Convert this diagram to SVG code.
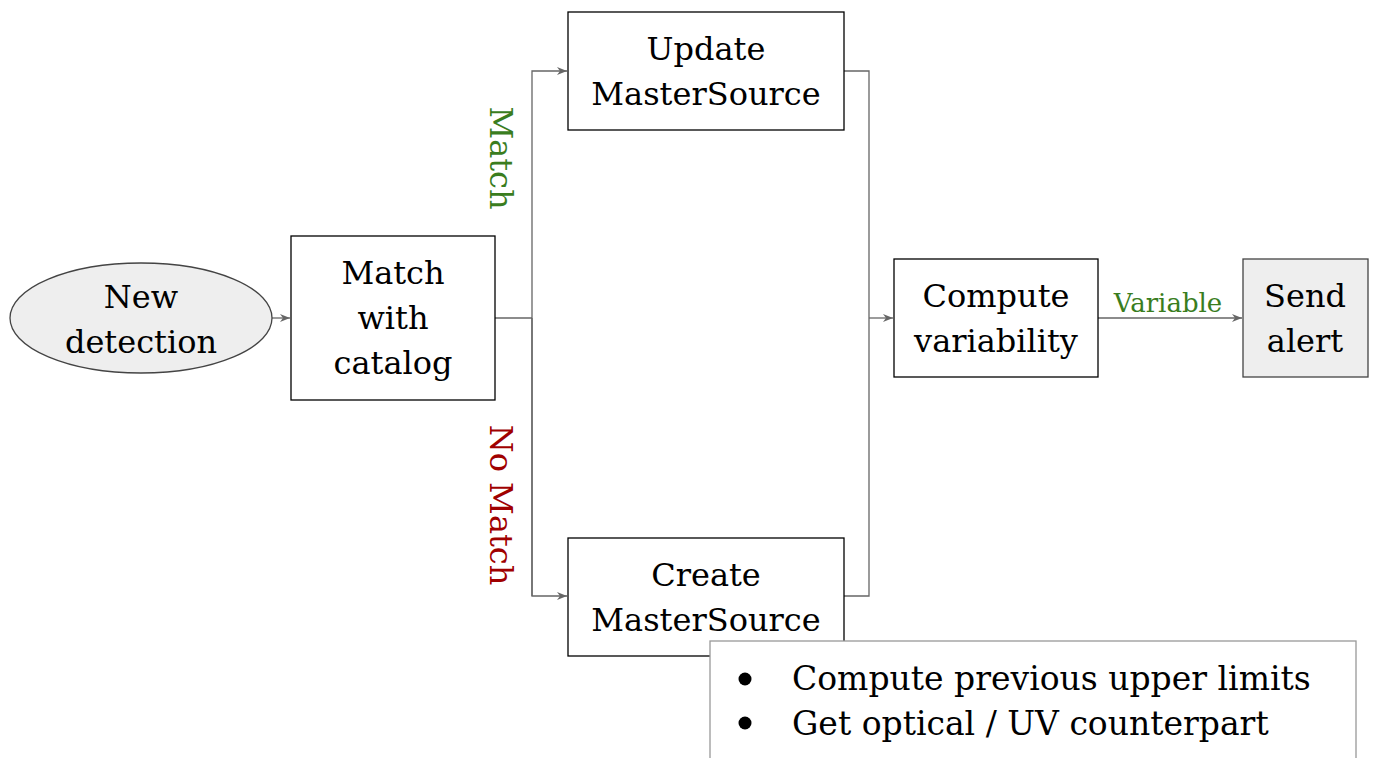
<svg xmlns="http://www.w3.org/2000/svg" width="1378" height="758" viewBox="0 0 1378 758">
<style>
.box{fill:#fff;stroke:#000;stroke-width:1.3}
.grey{fill:#eeeeee;stroke:#444;stroke-width:1.3}
.f{font-family:"DejaVu Serif","Liberation Serif",serif}
.t{font-family:"DejaVu Serif","Liberation Serif",serif;font-size:32px;fill:#000;text-anchor:middle}
.c{fill:none;stroke:#666;stroke-width:1.3}
</style>
<defs>
<marker id="a" viewBox="0 0 10 10" refX="10" refY="5" markerWidth="10" markerHeight="10" markerUnits="userSpaceOnUse" orient="auto">
<path d="M0,1 L10,5 L0,9 L3,5 Z" fill="#666"/>
</marker>
</defs>
<rect width="1378" height="758" fill="#fff"/>
<g id="connectors">
<line class="c" x1="272" y1="318" x2="290" y2="318" marker-end="url(#a)"/>
<polyline class="c" points="495,318 532,318"/>
<polyline class="c" points="532,596 532,71 567,71" marker-end="url(#a)"/>
<polyline class="c" points="532,318 532,596 567,596" marker-end="url(#a)"/>
<polyline class="c" points="844,71 869,71 869,596 844,596"/>
<line class="c" x1="869" y1="318" x2="893" y2="318" marker-end="url(#a)"/>
<line class="c" x1="1098" y1="318" x2="1242" y2="318" marker-end="url(#a)"/>
<text class="f" x="1168" y="312" font-size="26" fill="#3a7d1e" text-anchor="middle">Variable</text>
<text class="f" transform="translate(490,158) rotate(90)" font-size="32" fill="#3a7d1e" text-anchor="middle">Match</text>
<text class="f" transform="translate(490,505) rotate(90)" font-size="32" fill="#a00000" text-anchor="middle">No Match</text>
</g>
<g id="new-detection">
<ellipse class="grey" cx="141" cy="318" rx="131" ry="55"/>
<text class="t" x="141" y="308">New</text>
<text class="t" x="141" y="353">detection</text>
</g>
<g id="match-catalog">
<rect class="box" x="291" y="236" width="204" height="164"/>
<text class="t" x="393" y="284">Match</text>
<text class="t" x="393" y="329">with</text>
<text class="t" x="393" y="374">catalog</text>
</g>
<g id="update">
<rect class="box" x="568" y="12" width="276" height="118"/>
<text class="t" x="706" y="60">Update</text>
<text class="t" x="706" y="105">MasterSource</text>
</g>
<g id="create">
<rect class="box" x="568" y="538" width="276" height="118"/>
<text class="t" x="706" y="586">Create</text>
<text class="t" x="706" y="631">MasterSource</text>
</g>
<g id="compute">
<rect class="box" x="894" y="259" width="204" height="118"/>
<text class="t" x="996" y="307">Compute</text>
<text class="t" x="996" y="352">variability</text>
</g>
<g id="send-alert">
<rect class="grey" x="1243" y="259" width="125" height="118"/>
<text class="t" x="1305" y="307">Send</text>
<text class="t" x="1305" y="352">alert</text>
</g>
<g id="note">
<rect x="710" y="641" width="646" height="130" fill="#fff" stroke="#999" stroke-width="1.3"/>
<circle cx="745" cy="679" r="6.5" fill="#000"/>
<circle cx="745" cy="723" r="6.5" fill="#000"/>
<text class="f" x="792" y="690" font-size="33">Compute previous upper limits</text>
<text class="f" x="792" y="735" font-size="33">Get optical / UV counterpart</text>
</g>
</svg>
